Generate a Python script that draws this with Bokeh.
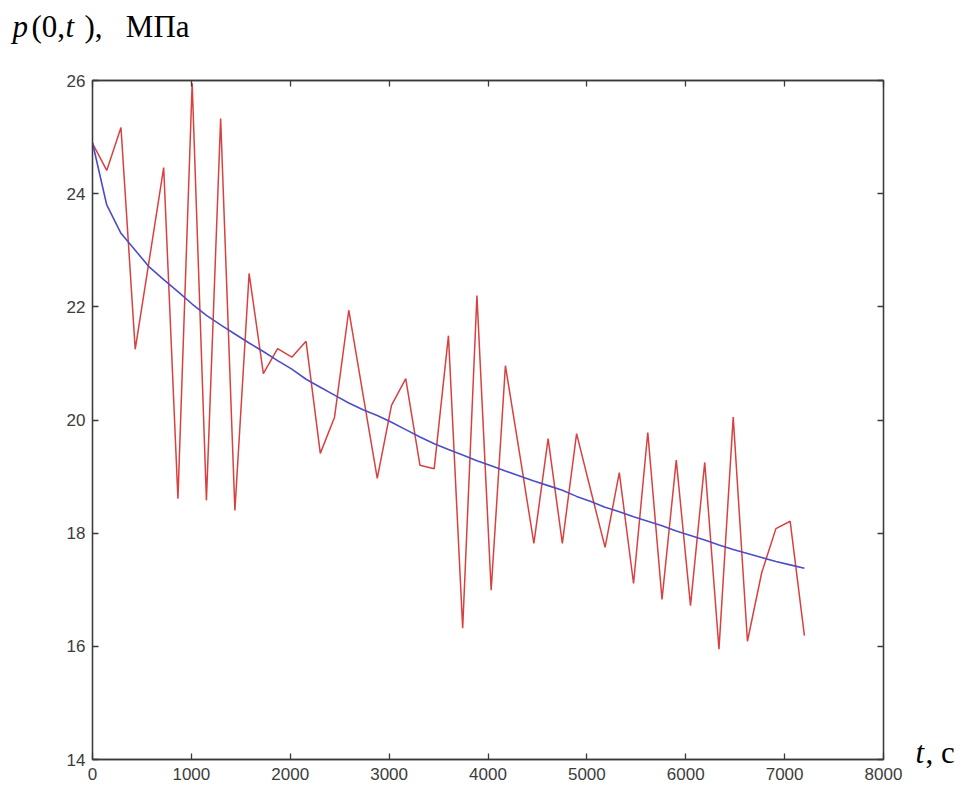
from bokeh.plotting import figure
from bokeh.models import Range1d, LinearAxis, FixedTicker, Label
from bokeh.embed import file_html
from bokeh.resources import INLINE

# ---- data ----
t_step = 144
red_p = [24.89, 24.41, 25.17, 21.25, 22.85, 24.46, 18.61, 25.95, 18.58, 25.33,
         18.40, 22.59, 20.82, 21.26, 21.11, 21.39, 19.41, 20.05, 21.94, 20.45,
         18.97, 20.26, 20.73, 19.20, 19.14, 21.49, 16.32, 22.20, 16.99, 20.96,
         19.40, 17.82, 19.67, 17.82, 19.76, 18.75, 17.75, 19.07, 17.11, 19.78,
         16.83, 19.29, 16.72, 19.25, 15.95, 20.05, 16.09, 17.30, 18.08, 18.21,
         16.19]
blue_p = [24.90, 23.80, 23.30, 23.00, 22.70, 22.48, 22.27, 22.05, 21.85, 21.68,
          21.52, 21.36, 21.21, 21.05, 20.90, 20.72, 20.58, 20.44, 20.30, 20.18,
          20.08, 19.96, 19.83, 19.70, 19.58, 19.48, 19.38, 19.28, 19.19, 19.10,
          19.01, 18.92, 18.84, 18.76, 18.65, 18.56, 18.46, 18.38, 18.29, 18.21,
          18.13, 18.04, 17.96, 17.88, 17.79, 17.71, 17.64, 17.57, 17.50, 17.44,
          17.38]
t_vals = [i * t_step for i in range(len(red_p))]
x_ticks = [0, 1000, 2000, 3000, 4000, 5000, 6000, 7000, 8000]
y_ticks = [14, 16, 18, 20, 22, 24, 26]

# ---- layout ----
FL, FT, FW, FH = 92, 80, 791, 679
X0, X1, Y0, Y1 = 0, 8000, 14, 26

p = figure(output_backend="svg", toolbar_location=None,
           frame_width=FW, frame_height=FH,
           min_border_left=FL, min_border_top=FT,
           min_border_right=964 - FL - FW, min_border_bottom=794 - FT - FH,
           x_range=Range1d(X0, X1), y_range=Range1d(Y0, Y1),
           x_axis_location=None, y_axis_location=None)
p.grid.visible = False
p.background_fill_color = "white"
p.border_fill_color = "white"
p.outline_line_color = "#3a3a3a"
p.outline_line_width = 1.3

def style_axis(ax, show_labels, standoff):
    ax.axis_line_color = "#3a3a3a"
    ax.axis_line_width = 1.3
    ax.major_tick_in = 6
    ax.major_tick_out = 0
    ax.major_tick_line_color = "#3a3a3a"
    ax.major_tick_line_width = 1.3
    ax.minor_tick_line_color = None
    ax.major_label_text_font = "Liberation Sans"
    ax.major_label_text_font_size = "17px" if show_labels else "1px"
    ax.major_label_text_color = "#3c3c3c" if show_labels else None
    ax.major_label_standoff = standoff

bx = LinearAxis(ticker=FixedTicker(ticks=x_ticks))
style_axis(bx, True, 8)
p.add_layout(bx, "below")
ax_top = LinearAxis(ticker=FixedTicker(ticks=x_ticks))
style_axis(ax_top, False, 0)
p.add_layout(ax_top, "above")
ly = LinearAxis(ticker=FixedTicker(ticks=y_ticks))
style_axis(ly, True, 7)
p.add_layout(ly, "left")
ry = LinearAxis(ticker=FixedTicker(ticks=y_ticks))
style_axis(ry, False, 0)
p.add_layout(ry, "right")

p.line(t_vals, red_p, line_color="#d8413f", line_width=1.5)
p.line(t_vals, blue_p, line_color="#4d4dc4", line_width=1.6)

# screen px -> data helpers for annotations outside the frame
BASE_FIX = 13

def sx(px):
    return X0 + (px - FL) * (X1 - X0) / FW

def sy(py):
    return Y1 + (FT - (py - BASE_FIX)) * (Y1 - Y0) / FH

def lab(txt, px, py, place, italic=False):
    p.add_layout(Label(x=sx(px), y=sy(py), text=txt,
                       text_font="Liberation Serif", text_font_size="31px",
                       text_font_style="italic" if italic else "normal",
                       text_color="black", text_align="left",
                       text_baseline="alphabetic"), place)

# title pieces spread over side panels (unclipped annotations)
lab("p", 12, 39, "above", True)
lab("(0,", 31, 39, "left")
lab("t", 65, 39, "left", True)
lab("),\u00a0\u00a0\u00a0МПа", 84, 39, "above")
# x-axis unit
lab("t", 915, 765, "right", True)
lab(", c", 925, 765, "right")

open("out.html", "w").write(file_html(p, INLINE))
